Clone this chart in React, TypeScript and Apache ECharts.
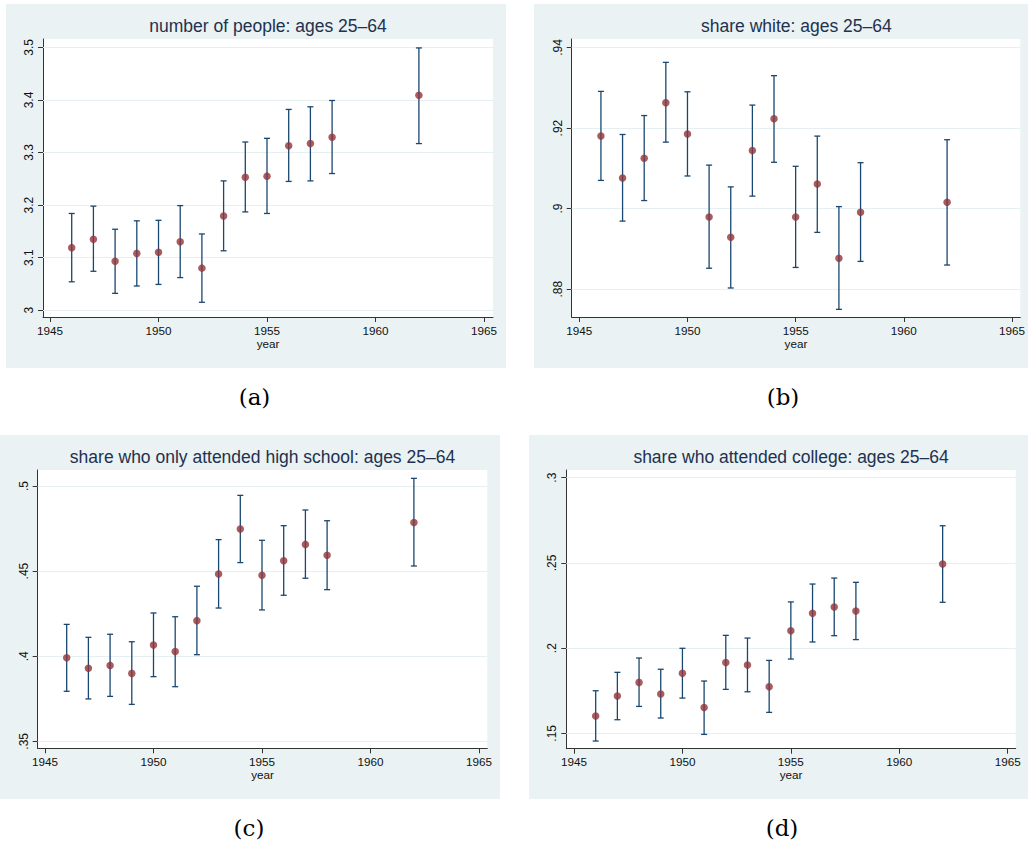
import React, { useEffect, useRef } from "react";
import * as echarts from "echarts";

// ---------- data ----------
const years = [1946, 1947, 1948, 1949, 1950, 1951, 1952, 1953, 1954, 1955, 1956, 1957, 1958, 1962];

const peopleEst = [3.119, 3.135, 3.093, 3.108, 3.110, 3.130, 3.080, 3.179, 3.253, 3.255, 3.313, 3.317, 3.329, 3.409];
const peopleLo = [3.054, 3.074, 3.032, 3.046, 3.049, 3.062, 3.015, 3.113, 3.187, 3.184, 3.245, 3.246, 3.260, 3.317];
const peopleHi = [3.184, 3.198, 3.154, 3.170, 3.171, 3.199, 3.145, 3.246, 3.320, 3.327, 3.382, 3.387, 3.399, 3.499];

const whiteEst = [0.9180, 0.9076, 0.9125, 0.9263, 0.9185, 0.8979, 0.8929, 0.9144, 0.9223, 0.8979, 0.9061, 0.8877, 0.8991, 0.9016];
const whiteLo = [0.9070, 0.8969, 0.9020, 0.9165, 0.9081, 0.8852, 0.8803, 0.9031, 0.9115, 0.8854, 0.8941, 0.8750, 0.8869, 0.8860];
const whiteHi = [0.9291, 0.9184, 0.9231, 0.9363, 0.9290, 0.9108, 0.9054, 0.9257, 0.9330, 0.9105, 0.9180, 0.9005, 0.9114, 0.9171];

const hsEst = [0.3991, 0.3929, 0.3946, 0.3899, 0.4066, 0.4027, 0.4209, 0.4483, 0.4747, 0.4475, 0.4561, 0.4657, 0.4593, 0.4786];
const hsLo = [0.3794, 0.3749, 0.3764, 0.3717, 0.3880, 0.3821, 0.4009, 0.4283, 0.4550, 0.4272, 0.4358, 0.4458, 0.4391, 0.4530];
const hsHi = [0.4187, 0.4111, 0.4129, 0.4085, 0.4254, 0.4232, 0.4411, 0.4685, 0.4945, 0.4681, 0.4767, 0.4859, 0.4796, 0.5045];

const colEst = [0.1602, 0.1719, 0.1799, 0.1731, 0.1852, 0.1651, 0.1915, 0.1901, 0.1774, 0.2102, 0.2204, 0.2241, 0.2218, 0.2494];
const colLo = [0.1455, 0.1580, 0.1658, 0.1590, 0.1707, 0.1494, 0.1758, 0.1744, 0.1623, 0.1936, 0.2036, 0.2073, 0.2050, 0.2269];
const colHi = [0.1750, 0.1858, 0.1942, 0.1876, 0.1999, 0.1807, 0.2075, 0.2059, 0.1928, 0.2271, 0.2376, 0.2411, 0.2386, 0.2718];

const xTicks = [1945, 1950, 1955, 1960, 1965];
const peopleTicks = [3, 3.1, 3.2, 3.3, 3.4, 3.5];
const whiteTicks = [0.88, 0.9, 0.92, 0.94];
const hsTicks = [0.35, 0.4, 0.45, 0.5];
const colTicks = [0.15, 0.2, 0.25, 0.3];

const titles = [
  "number of people: ages 25\u201364",
  "share white: ages 25\u201364",
  "share who only attended high school: ages 25\u201364",
  "share who attended college: ages 25\u201364",
];
const captions = ["(a)", "(b)", "(c)", "(d)"];
const xName = "year";

// ---------- layout / style ----------
const SANS = '"Liberation Sans", Arial, Helvetica, sans-serif';
const SERIF = '"DejaVu Serif", "Liberation Serif", serif';
const BG = "#eaf2f3";
const NAVY = "#1a476f";
const MAROON = "#90353b";

const panels = [
  { bg: [6, 4, 500, 364], grid: [43, 39, 450, 278], xr: [1944.677, 1965.415], yr: [2.987, 3.516], cap: [254.5, 397] },
  { bg: [534, 4, 494, 364], grid: [571.7, 39, 449.3, 278], xr: [1944.649, 1965.383], yr: [0.8731, 0.9421], cap: [783, 397] },
  { bg: [0, 435, 500, 364], grid: [37.7, 470, 449.6, 278.3], xr: [1944.664, 1965.382], yr: [0.3459, 0.5094], cap: [249, 828] },
  { bg: [529, 435, 499, 364], grid: [566.3, 470, 449.4, 278.7], xr: [1944.645, 1965.369], yr: [0.141, 0.3045], cap: [782, 828] },
];

const sets = [
  { est: peopleEst, lo: peopleLo, hi: peopleHi, ticks: peopleTicks },
  { est: whiteEst, lo: whiteLo, hi: whiteHi, ticks: whiteTicks },
  { est: hsEst, lo: hsLo, hi: hsHi, ticks: hsTicks },
  { est: colEst, lo: colLo, hi: colHi, ticks: colTicks },
];

function fmtY(v: number) {
  const s = String(+Number(v).toFixed(4));
  return s.startsWith("0.") ? s.slice(1) : s;
}

function buildOption() {
  const grid: any[] = [];
  const xAxis: any[] = [];
  const yAxis: any[] = [];
  const series: any[] = [];
  const graphic: any[] = [];

  panels.forEach((p, i) => {
    const s = sets[i];
    graphic.push({
      type: "rect",
      shape: { x: p.bg[0], y: p.bg[1], width: p.bg[2], height: p.bg[3] },
      style: { fill: BG },
      z: -10,
      silent: true,
    });
    const [gl, gt, gw, gh] = p.grid;
    grid.push({
      left: gl,
      top: gt,
      width: gw,
      height: gh,
      show: true,
      backgroundColor: "#ffffff",
      borderWidth: 0,
      containLabel: false,
    });
    graphic.push({
      type: "text",
      x: gl + gw / 2,
      y: gt - 13,
      style: {
        text: titles[i],
        fill: "#22314f",
        font: `17.5px ${SANS}`,
        textAlign: "center",
        textVerticalAlign: "middle",
      },
      z: 10,
    });
    graphic.push({
      type: "text",
      x: p.cap[0],
      y: p.cap[1],
      style: {
        text: captions[i],
        fill: "#000",
        font: `23px ${SERIF}`,
        textAlign: "center",
        textVerticalAlign: "middle",
      },
      z: 10,
    });

    xAxis.push({
      type: "value",
      gridIndex: i,
      min: p.xr[0],
      max: p.xr[1],
      name: xName,
      nameLocation: "middle",
      nameGap: 20,
      nameTextStyle: { color: "#111", fontSize: 11.7, fontFamily: SANS },
      axisLine: { show: true, onZero: false, lineStyle: { color: "#333", width: 1 } },
      axisTick: { show: true, length: 5, inside: false, customValues: xTicks, lineStyle: { color: "#333" } },
      axisLabel: {
        show: true,
        customValues: xTicks,
        margin: 7,
        color: "#111",
        fontSize: 11.7,
        fontFamily: SANS,
        formatter: (v: number) => String(Math.round(v)),
      },
      splitLine: { show: false },
    });
    yAxis.push({
      type: "value",
      gridIndex: i,
      min: p.yr[0],
      max: p.yr[1],
      axisLine: { show: true, onZero: false, lineStyle: { color: "#333", width: 1 } },
      axisTick: { show: true, length: 5, inside: false, customValues: s.ticks, lineStyle: { color: "#333" } },
      axisLabel: {
        show: true,
        customValues: s.ticks,
        rotate: 90,
        margin: 8,
        color: "#111",
        fontSize: 12,
        fontFamily: SANS,
        formatter: (v: number) => fmtY(v),
      },
      splitLine: { show: false },
    });

    // gridlines at the y ticks
    series.push({
      type: "line",
      xAxisIndex: i,
      yAxisIndex: i,
      data: [],
      silent: true,
      z: 1,
      markLine: {
        silent: true,
        symbol: ["none", "none"],
        z: 1,
        label: { show: false },
        lineStyle: { color: "#e6eff1", width: 1.2, type: "solid" },
        emphasis: { disabled: true },
        data: s.ticks.map((t) => ({ yAxis: t })),
      },
    });

    // error bars
    series.push({
      type: "custom",
      xAxisIndex: i,
      yAxisIndex: i,
      z: 3,
      silent: true,
      data: years.map((y, k) => [y, s.lo[k], s.hi[k]]),
      encode: { x: 0, y: [1, 2] },
      renderItem: (params: any, api: any) => {
        const x = api.value(0);
        const lo = api.coord([x, api.value(1)]);
        const hi = api.coord([x, api.value(2)]);
        const cw = 3;
        const st = { stroke: NAVY, lineWidth: 1.3 };
        return {
          type: "group",
          children: [
            { type: "line", shape: { x1: lo[0], y1: lo[1], x2: hi[0], y2: hi[1] }, style: st },
            { type: "line", shape: { x1: hi[0] - cw, y1: hi[1], x2: hi[0] + cw, y2: hi[1] }, style: st },
            { type: "line", shape: { x1: lo[0] - cw, y1: lo[1], x2: lo[0] + cw, y2: lo[1] }, style: st },
          ],
        };
      },
    });

    // point estimates
    series.push({
      type: "scatter",
      xAxisIndex: i,
      yAxisIndex: i,
      z: 4,
      symbol: "circle",
      symbolSize: 7.5,
      itemStyle: { color: MAROON },
      data: years.map((y, k) => [y, s.est[k]]),
    });
  });

  return {
    animation: false,
    backgroundColor: "#ffffff",
    grid,
    xAxis,
    yAxis,
    series,
    graphic,
  };
}

export default function App() {
  const ref = useRef<HTMLDivElement | null>(null);
  useEffect(() => {
    if (!ref.current) return;
    const chart = echarts.init(ref.current, undefined, { renderer: "svg" });
    chart.setOption(buildOption() as any);
    return () => chart.dispose();
  }, []);
  return (
    <div
      ref={ref}
      style={{ position: "absolute", left: 0, top: 0, width: 1028, height: 850 }}
    />
  );
}
